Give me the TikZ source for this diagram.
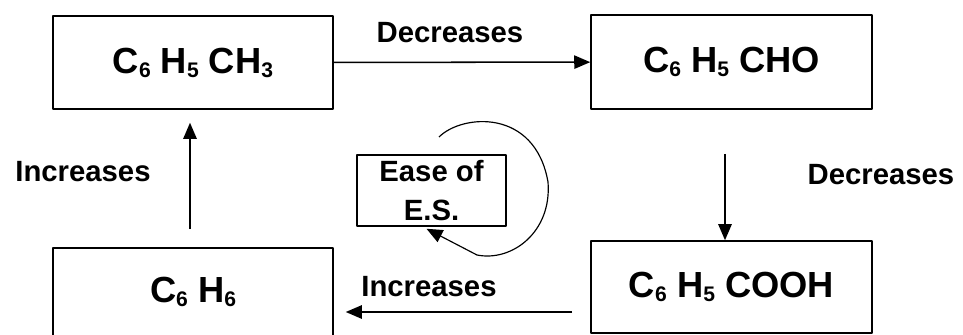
\documentclass[tikz,border=0pt]{standalone}
\usepackage{fontspec}
\setmainfont{Liberation Sans}
\usetikzlibrary{arrows.meta}
\newcommand{\chemsub}[1]{\raisebox{-3.5pt}{\fontsize{18}{18}\selectfont #1}}
\begin{document}
\begin{tikzpicture}[x=0.03cm, y=-0.03cm, line join=round, line width=1.3pt,
	>={Triangle[length=0.48cm, width=0.4cm]},
	font=\fontsize{25}{33}\selectfont\bfseries,
	chembox/.style={draw, line width=1.3pt, inner sep=0pt, font=\fontsize{31}{31}\selectfont\bfseries},
	easebox/.style={draw, line width=1.3pt, inner sep=0pt, align=center, minimum width=149*0.03cm, minimum height=71*0.03cm}]
	%%%%%%%%%%%%%%%%%%%%%%%%%%%%%%%%%
	\useasboundingbox (0,0) rectangle (963,334);
	%%%%%%%%%%%%%%%%%%%%%%%%%%%%%%%%%
	\node[chembox, minimum width=280*0.03cm, minimum height=93*0.03cm] (tol) at (193,62.5) {C\chemsub{6} H\chemsub{5} CH\chemsub{3}};
	\node[chembox, minimum width=281*0.03cm, minimum height=94*0.03cm] (ald) at (731.5,62) {C\chemsub{6} H\chemsub{5} CHO};
	\node[chembox, minimum width=281*0.03cm, minimum height=92*0.03cm] (acid) at (731.5,287) {C\chemsub{6} H\chemsub{5} COOH};
	\node[chembox, minimum width=280*0.03cm, minimum height=88*0.03cm] (benz) at (193,292) {C\chemsub{6} H\chemsub{6}\hspace{0.6cm}};
	\node[easebox] (ease) at (431.5,190.5) {Ease of\\E.S.};
	%%%%%%%%%%%%%%%%%%%%%%%%%%%%%%%%%
	\node (dec1) at (450,33) {Decreases};
	\node (dec2) at (881,175) {Decreases};
	\node (inc1) at (83,172) {Increases};
	\node (inc2) at (429,287) {Increases};
	%%%%%%%%%%%%%%%%%%%%%%%%%%%%%%%%%
	\draw[->] (tol) -- (ald);
	\draw[->, shorten <=44*0.03cm] ([xshift=-6.5*0.03cm]ald.south) -- ([xshift=-6.5*0.03cm]acid.north);
	\draw[->] ([shift={(-18,25)}]acid.west) -- ([shift={(12,20)}]benz.east);
	\draw[->, shorten <=18*0.03cm, shorten >=13*0.03cm] ([xshift=-3*0.03cm]benz.north) -- ([xshift=-3*0.03cm]tol.south);
	%%%%%%%%%%%%%%%%%%%%%%%%%%%%%%%%%
	\draw[->, line width=1pt] (439,137) .. controls (462,114) and (535,108) .. (548,182)
		.. controls (552,232) and (512,262) .. (477,255) -- ([shift={(-5,2)}]ease.south);
\end{tikzpicture}
\end{document}
